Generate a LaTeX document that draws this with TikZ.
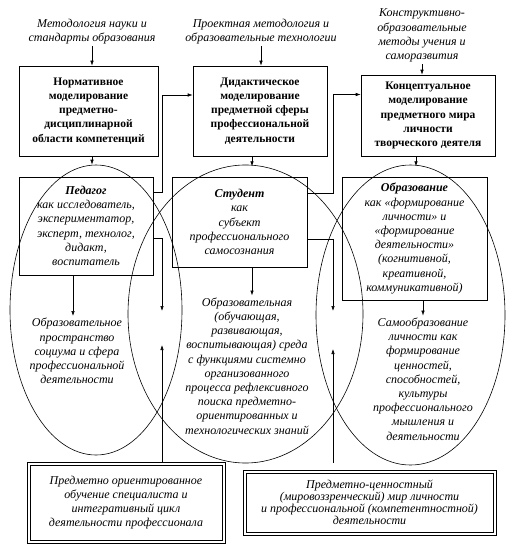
\documentclass[tikz,border=0pt]{standalone}
\usepackage{fontspec}
\setmainfont{Liberation Serif}
\usetikzlibrary{arrows.meta, shapes.geometric}
\newcommand{\diagfont}{\fontsize{12}{14.2}\selectfont}

\begin{document}
\begin{tikzpicture}[x=1pt,y=-1pt,
  font=\diagfont,
  box/.style={draw, line width=0.6pt, align=center, inner sep=2pt},
  modelbox/.style={box, font=\fontsize{11.5}{14.2}\selectfont\bfseries},
  rolebox/.style={box, font=\diagfont\itshape},
  sourcebox/.style={box, font=\diagfont\itshape},
  note/.style={align=center, font=\diagfont\itshape, inner sep=2pt},
  ring/.style={draw, ellipse, line width=0.6pt, inner sep=0pt},
  arr/.style={line width=0.6pt, -{Latex[length=5pt,width=3.5pt]}}]
\useasboundingbox (0,0) rectangle (517,551);

% three overlapping spheres
\node[ring, minimum width=172, minimum height=290] (ellPed) at (96,310) {};
\node[ring, minimum width=235, minimum height=298] (ellStud) at (245.5,314) {};
\node[ring, minimum width=189, minimum height=300] (ellObr) at (410.5,315) {};

% sources on top
\node[note] (srcNorm) at (92,31.5) {Методология науки и\\стандарты образования};
\node[note] (srcDid) at (261,31.5) {Проектная методология и\\образовательные технологии};
\node[note] (srcConc) at (422,35.5) {Конструктивно-\\образовательные\\методы учения и\\саморазвития};

% modelling boxes
\node[modelbox, minimum width=139, minimum height=90] (norm) at (88.5,111)
  {Нормативное\\моделирование\\предметно-\\дисциплинарной\\области компетенций};
\node[modelbox, minimum width=134, minimum height=90] (did) at (260,111)
  {Дидактическое\\моделирование\\предметной сферы\\профессиональной\\деятельности};
\node[modelbox, minimum width=134, minimum height=81] (conc) at (428,115.5)
  {Концептуальное\\моделирование\\предметного мира\\личности\\творческого деятеля};

% subjects
\node[rolebox, minimum width=134, minimum height=98] (ped) at (86,226)
  {\textbf{Педагог}\\как исследователь,\\экспериментатор,\\эксперт, технолог,\\дидакт,\\воспитатель};
\node[rolebox, minimum width=135, minimum height=90] (stud) at (239.5,222)
  {\textbf{Студент}\\как\\субъект\\профессионального\\самосознания};
\node[rolebox, minimum width=145, minimum height=123] (obr) at (414.5,238.5)
  {\textbf{Образование}\\как «формирование\\личности» и\\«формирование\\деятельности»\\(когнитивной,\\креативной,\\коммуникативной)};

% spaces
\node[note] (spPed) at (77,351)
  {Образовательное\\пространство\\социума и сфера\\профессиональной\\деятельности};
\node[note] (spStud) at (247,366)
  {Образовательная\\(обучающая,\\развивающая,\\воспитывающая) среда\\с функциями системно\\организованного\\процесса рефлексивного\\поиска предметно-\\ориентированных и\\технологических знаний};
\node[note] (spObr) at (423,379)
  {Самообразование\\личности как\\формирование\\ценностей,\\способностей,\\культуры\\профессионального\\мышления и\\деятельности};

% results at the bottom (double frame)
\node[sourcebox, minimum width=198, minimum height=81] (resTrain) at (126,502.5)
  {Предметно ориентированное\\обучение специалиста и\\интегративный цикл\\деятельности профессионала};
\draw[line width=0.6pt] ([shift={(3.5,3.5)}]resTrain.north west) rectangle ([shift={(-3.5,-3.5)}]resTrain.south east);
\node[sourcebox, minimum width=253, minimum height=65, font=\fontsize{12}{12}\selectfont\itshape] (resWorld) at (369.5,502.5)
  {Предметно-ценностный\\(мировоззренческий) мир личности\\и профессиональной (компетентностной)\\деятельности};
\draw[line width=0.6pt] ([shift={(3.5,3.5)}]resWorld.north west) rectangle ([shift={(-3.5,-3.5)}]resWorld.south east);

\coordinate (dropL) at (162,311);
\coordinate (riseL) at (162,345);
\coordinate (dropR) at (333,311);
\coordinate (riseR) at (333,349);

% vertical flow
\draw[arr] (srcNorm.south) -- (srcNorm.south |- norm.north);
\draw[arr] (srcDid.south) -- (srcDid.south |- did.north);
\draw[arr] (srcConc.south) -- (srcConc.south |- conc.north);
\draw[arr] (norm.south -| srcNorm.south) -- (srcNorm.south |- ellPed.north);
\draw[arr] ([xshift=-8]did.south) -- ++(0,10);
\draw[arr] ([xshift=-12]conc.south) -- ++(0,10);
\draw[arr] ([xshift=-13]ped.south) -- ([xshift=-13]ped.south |- spPed.north);
\draw[arr] ([xshift=12.5]stud.south) -- ([xshift=12.5]stud.south |- spStud.north);
\draw[arr] ([xshift=8.5]obr.south) -- ([xshift=8.5]obr.south |- spObr.north);

% side links
\draw[arr] ([yshift=34]ped.east) -- ++(9,0) |- ([yshift=16]did.west);
\draw[arr] ([yshift=29]stud.east) -- ++(26,0) |- ([yshift=21]conc.west);
\draw[arr] ([yshift=-12]ped.east) -| (dropL);
\draw[arr] ([yshift=-17]stud.east) -| (dropR);
\draw[arr] ([xshift=36]resTrain.north) -- (riseL);
\draw[arr] ([xshift=-36.5,yshift=7]resWorld.north) -- (riseR);
\end{tikzpicture}
\end{document}
